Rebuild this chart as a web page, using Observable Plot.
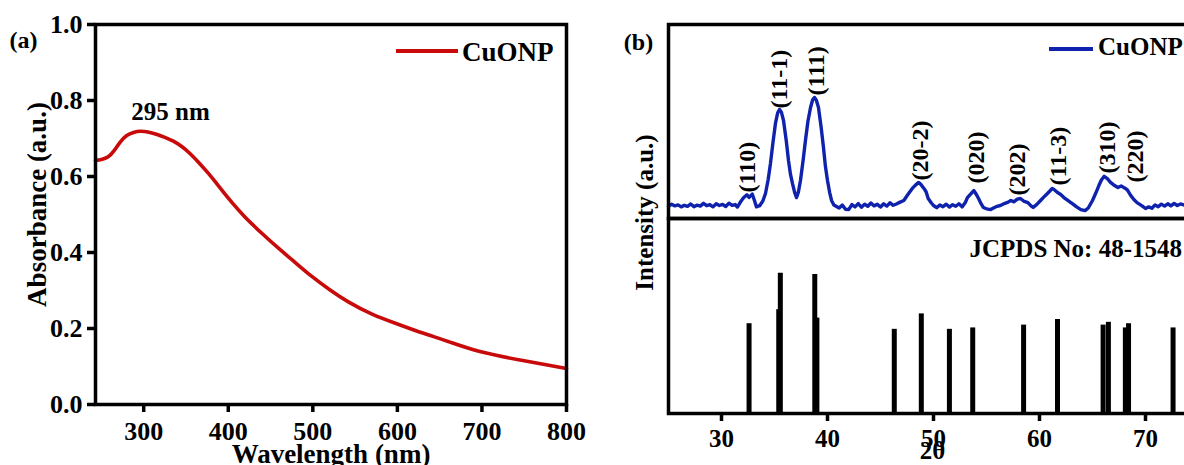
<!DOCTYPE html>
<html><head><meta charset="utf-8">
<script src="https://cdn.jsdelivr.net/npm/d3@7"></script>
<script src="https://cdn.jsdelivr.net/npm/@observablehq/plot@0.6"></script>
<style>
html,body{margin:0;padding:0;background:#fff;overflow:hidden;}
#fig{position:relative;width:1184px;height:465px;overflow:hidden;background:#fff;font-family:"Liberation Serif","Times New Roman",serif;font-weight:bold;color:#000;}
.pane{position:absolute;}
.pane svg{max-width:none !important;display:block;}
.sw{position:absolute;height:4px;}
.lt{position:absolute;white-space:nowrap;}
</style></head><body><div id="fig"></div>
<script>
// ---- (a) UV-Vis absorbance ----
const wavelength = [243,250,258,265,272,280,288,296,305,315,325,335,345,355,365,375,385,395,405,420,440,460,480,500,520,542,570,600,630,660,700,750,800];
const absorbance = [0.642,0.645,0.652,0.668,0.690,0.708,0.716,0.719,0.717,0.711,0.703,0.693,0.679,0.660,0.637,0.612,0.585,0.557,0.530,0.493,0.450,0.410,0.372,0.335,0.302,0.270,0.238,0.212,0.188,0.166,0.138,0.115,0.095];
const absXTicks = [300,400,500,600,700,800];
const absYTicks = [0,0.2,0.4,0.6,0.8,1.0];
const peakWavelength = [295];
const peakAbsorbance = [0.72];
const peakText = ["295 nm"];

// ---- (b) XRD ----
const xrdTheta = [
25.0,25.3,25.6,25.9,26.2,26.5,26.8,27.1,27.4,27.7,
28.0,28.3,28.6,28.9,29.2,29.5,29.8,30.1,30.4,30.7,
31.0,31.3,31.5,31.8,32.1,32.4,32.6,32.9,33.1,33.3,
33.6,33.9,34.15,34.4,34.62,34.85,35.09,35.3,35.47,35.65,
35.85,36.1,36.32,36.5,36.7,36.9,37.08,37.25,37.45,37.7,
37.92,38.15,38.4,38.6,38.77,38.95,39.15,39.4,39.62,39.8,
40.0,40.2,40.38,40.6,40.85,41.1,41.4,41.7,42.0,42.3,
42.6,42.9,43.2,43.5,43.8,44.1,44.4,44.7,45.0,45.3,
45.6,45.9,46.2,46.5,46.8,47.2,47.6,48.0,48.3,48.6,
48.8,49.1,49.3,49.5,49.8,50.0,50.3,50.6,50.9,51.2,
51.5,51.8,52.1,52.4,52.7,53.0,53.2,53.5,53.8,54.0,
54.25,54.5,54.7,55.0,55.4,55.7,56.0,56.3,56.6,57.0,
57.3,57.6,57.9,58.2,58.5,58.9,59.2,59.4,59.7,60.1,
60.4,60.75,61.0,61.2,61.45,61.7,62.0,62.3,62.6,62.9,
63.1,63.5,63.9,64.3,64.6,65.0,65.3,65.6,65.85,66.1,
66.4,66.7,67.0,67.4,67.7,68.1,68.3,68.6,68.9,69.2,
69.6,70.0,70.3,70.6,70.9,71.2,71.5,71.8,72.1,72.4,
72.7,73.0,73.3,73.7,74.0,74.4,74.7,75.0];
const xrdIntensity = [
6.2,7.4,6.5,7.0,6.0,6.8,6.3,7.5,6.1,6.9,
6.4,7.8,6.6,7.1,6.0,7.6,6.7,7.3,6.2,7.9,
6.8,7.2,5.9,8.6,10.8,12.2,10.9,12.6,9.4,6.0,
6.6,9.0,12.9,20.0,28.4,39.0,49.0,54.5,56.2,54.8,
50.5,40.5,29.9,23.0,18.0,13.5,10.8,13.5,19.6,30.0,
40.2,50.0,57.2,61.2,62.4,61.0,57.2,47.0,36.6,27.0,
19.6,13.5,9.3,7.0,6.2,5.4,6.9,4.8,4.6,7.2,
6.0,7.7,5.8,7.4,6.3,8.0,6.5,7.3,5.9,7.6,
6.4,8.1,6.8,7.5,8.3,9.3,12.5,15.5,17.2,18.6,
17.6,15.5,13.8,10.3,8.0,6.7,5.6,7.0,6.1,7.4,
5.9,7.1,6.3,7.6,6.0,8.2,10.8,12.6,14.4,12.8,
10.3,7.5,5.7,5.0,4.6,5.5,6.3,6.7,7.5,8.3,
9.3,8.6,10.0,10.3,9.0,8.2,6.5,5.7,7.0,9.3,
11.0,12.9,14.3,15.5,14.6,13.4,12.4,10.8,9.6,8.4,
7.7,6.0,4.6,4.1,5.4,9.3,13.0,17.0,20.0,21.7,
20.5,18.6,17.3,16.0,16.8,15.5,14.6,11.9,9.8,8.2,
6.8,5.2,6.0,5.3,7.0,6.1,7.4,6.4,7.6,6.5,
7.8,6.7,7.5,6.9,7.3,6.4,7.1,6.6];
const hklText = ["(110)","(11-1)","(111)","(20-2)","(020)","(202)","(11-3)","(310)","(220)"];
const hklTheta = [32.4,35.5,38.9,48.8,54.0,57.9,61.8,66.4,69.0];
const hklLevel = [13.4,56.7,63.4,19.6,18.0,11.9,17.0,23.2,18.6];
const refTheta = [32.6,35.4,35.55,38.8,39.0,46.3,48.85,51.5,53.7,58.5,61.7,66.0,66.5,68.1,68.4,72.6];
const refIntensity = [64,74,100,99,68,60,71,60,61,63,67,63,65,61,64,61];
const xrdTicks = [30,40,50,60,70];
const refCardText = "JCPDS No: 48-1548";

const red = "#c80a0a", blue = "#0f22ae";
const font = '"Liberation Serif","Times New Roman",serif';
const baseStyle = {fontFamily: font, fontWeight: "bold", fontSize: "25px", color: "#000", background: "transparent", overflow: "visible"};

const absRows = wavelength.map((w, i) => ({w, a: absorbance[i]}));
const peakRows = peakWavelength.map((w, i) => ({w, a: peakAbsorbance[i], t: peakText[i]}));
const xrdRows = xrdTheta.map((t, i) => ({t, v: xrdIntensity[i]}));
const hklRows = hklText.map((s, i) => ({s, t: hklTheta[i], v: hklLevel[i]}));
const refRows = refTheta.map((t, i) => ({t, v: refIntensity[i]}));

const fig = document.getElementById("fig");
function place(el, left, top, w, h) {
  const d = document.createElement("div");
  d.className = "pane"; d.style.left = left + "px"; d.style.top = top + "px";
  d.style.width = w + "px"; d.style.height = h + "px";
  d.appendChild(el); fig.appendChild(d);
}
const ctr = {textAnchor: "middle", lineAnchor: "middle"};

// Panel (a)
const pa = Plot.plot({
  width: 600, height: 465, marginLeft: 95, marginRight: 34, marginTop: 24, marginBottom: 61,
  style: baseStyle,
  x: {domain: [243, 800]},
  y: {domain: [0, 1]},
  marks: [
    Plot.line(absRows, {x: "w", y: "a", stroke: red, strokeWidth: 3.6, curve: "natural"}),
    Plot.frame({stroke: "#000", strokeWidth: 3.5}),
    Plot.axisX({ticks: absXTicks, tickSize: 8, tickPadding: 9, strokeWidth: 3.5, label: null, fontSize: 26}),
    Plot.axisY({ticks: absYTicks, tickSize: 8, tickPadding: 5, strokeWidth: 3.5, tickFormat: d3.format(".1f"), label: null, fontSize: 26}),
    Plot.text(peakRows, {x: "w", y: "a", text: "t", dx: 31, dy: -19, fontSize: 25}),
    Plot.text(["(a)"], {frameAnchor: "top-left", text: d => d, ...ctr, dx: -72, dy: 16, fontSize: 24}),
    Plot.text(["Wavelength (nm)"], {frameAnchor: "bottom", text: d => d, ...ctr, dy: 50, fontSize: 27}),
    Plot.text(["Absorbance (a.u.)"], {frameAnchor: "left", text: d => d, ...ctr, rotate: -90, dx: -58, dy: -10, fontSize: 27})
  ]
});
place(pa, 0, 0, 600, 465);

// Panel (b) top: measured pattern
const pbTop = Plot.plot({
  width: 608, height: 218, marginLeft: 68, marginRight: 10, marginTop: 24, marginBottom: 0,
  style: baseStyle,
  x: {domain: [25, 75], axis: null},
  y: {domain: [0, 100], axis: null},
  marks: [
    Plot.line(xrdRows, {x: "t", y: "v", stroke: blue, strokeWidth: 3.4}),
    Plot.text(hklRows, {x: "t", y: "v", text: "s", rotate: -90, textAnchor: "start", lineAnchor: "middle", fontSize: 24}),
    Plot.frame({stroke: "#000", strokeWidth: 3.5}),
    Plot.text(["(b)"], {frameAnchor: "top-left", text: d => d, ...ctr, dx: -30, dy: 18, fontSize: 24}),
    Plot.text(["Intensity (a.u.)"], {frameAnchor: "top-left", text: d => d, ...ctr, rotate: -90, dx: -24, dy: 188, fontSize: 25})
  ]
});

// Panel (b) bottom: reference sticks
const pbBot = Plot.plot({
  width: 608, height: 247, marginLeft: 68, marginRight: 10, marginTop: 0, marginBottom: 52,
  style: baseStyle,
  x: {domain: [25, 75]},
  y: {domain: [0, 139], axis: null},
  marks: [
    Plot.ruleX(refRows, {x: "t", y: "v", stroke: "#000", strokeWidth: 5}),
    Plot.frame({stroke: "#000", strokeWidth: 3.5}),
    Plot.axisX({ticks: xrdTicks, tickSize: 8, tickPadding: 8, strokeWidth: 3.5, label: null, fontSize: 25}),
    Plot.text(["2θ"], {frameAnchor: "bottom", text: d => d, ...ctr, dx: -1, dy: 37, fontSize: 25})
  ]
});
place(pbBot, 600, 218, 608, 247);
place(pbTop, 600, 0, 608, 218);

// Reference-card label (right aligned to the visible edge)
const card = document.createElement("div");
card.className = "lt"; card.textContent = refCardText;
card.style.right = "2px"; card.style.top = "236px";
card.style.fontSize = "25px"; card.style.lineHeight = "25px";
fig.appendChild(card);

// Legends
function legend(color, lineLeft, lineTop, lineWidth, textLeft, textTop, size) {
  const s = document.createElement("div");
  s.className = "sw"; s.style.left = lineLeft + "px"; s.style.top = lineTop + "px";
  s.style.width = lineWidth + "px"; s.style.background = color;
  fig.appendChild(s);
  const t = document.createElement("div");
  t.className = "lt"; t.textContent = "CuONP";
  t.style.left = textLeft + "px"; t.style.top = textTop + "px";
  t.style.fontSize = size + "px"; t.style.lineHeight = size + "px";
  fig.appendChild(t);
}
legend(red, 396, 49, 62, 462, 39, 27);
legend(blue, 1049, 47, 44, 1098, 34, 25);
</script></body></html>
